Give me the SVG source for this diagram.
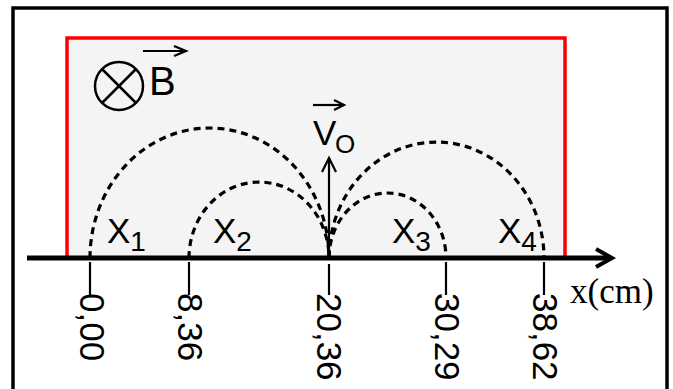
<svg xmlns="http://www.w3.org/2000/svg" width="673" height="389" viewBox="0 0 673 389">
<defs>
<style>
.sans{font-family:"Liberation Sans",Arial,sans-serif;fill:#000}
.serif{font-family:"Liberation Serif","Times New Roman",serif;fill:#000}
.arc{fill:none;stroke:#000;stroke-width:3.2;stroke-dasharray:7 5}
.tick{stroke:#000;stroke-width:2.2}
.lbl{font-size:35px}
.vec{fill:none;stroke:#000;stroke-width:2.2}
</style>
</defs>
<rect x="0" y="0" width="673" height="389" fill="#fff"/>
<g id="frame">
<rect x="13" y="8" width="654" height="420" fill="#fff" stroke="#000" stroke-width="3.5"/>
</g>
<g id="field-region">
<rect x="67" y="38" width="498" height="220" fill="#f4f4f4" stroke="#f00" stroke-width="3.5"/>
</g>
<g id="B-label">
<circle cx="119" cy="86" r="24" fill="none" stroke="#000" stroke-width="2.5"/>
<line x1="102" y1="69" x2="136" y2="103" stroke="#000" stroke-width="2.5"/>
<line x1="136" y1="69" x2="102" y2="103" stroke="#000" stroke-width="2.5"/>
<text class="sans" x="149" y="95" font-size="40">B</text>
<line x1="143" y1="51" x2="186" y2="51" class="vec"/>
<polyline points="174,46 186,51 174,56" class="vec"/>
</g>
<g id="connectors">
<path class="arc" d="M90 258 A119.5 130 0 0 1 329 258"/>
<path class="arc" d="M189 258 A70 76 0 0 1 329 258"/>
<path class="arc" d="M329 258 A58.5 65 0 0 1 446 258"/>
<path class="arc" d="M329 258 A107.5 116 0 0 1 544 258"/>
</g>
<g id="v0-label">
<line x1="329" y1="256" x2="329" y2="158" class="vec"/>
<polyline points="322,172 329,158 336,172" class="vec"/>
<text class="sans" x="313" y="145" font-size="35">V</text>
<text class="sans" x="335" y="153" font-size="26">O</text>
<line x1="313" y1="105" x2="344" y2="105" class="vec"/>
<polyline points="334,100 344,105 334,110" class="vec"/>
</g>
<g id="axis">
<line x1="27" y1="258" x2="610" y2="258" stroke="#000" stroke-width="5"/>
<polyline points="596,249 612,258 596,267" fill="none" stroke="#000" stroke-width="4"/>
<text class="serif" x="570" y="303" font-size="35">x(cm)</text>
</g>
<g id="tick-0">
<line class="tick" x1="90" y1="262" x2="90" y2="295"/>
<text class="sans lbl" transform="translate(80,293) rotate(90)">0,00</text>
</g>
<g id="tick-836">
<line class="tick" x1="189" y1="262" x2="189" y2="295"/>
<text class="sans lbl" transform="translate(178,293) rotate(90)">8,36</text>
</g>
<g id="tick-2036">
<line class="tick" x1="329" y1="264" x2="329" y2="295"/>
<text class="sans lbl" transform="translate(317,293) rotate(90)">20,36</text>
</g>
<g id="tick-3029">
<line class="tick" x1="446" y1="262" x2="446" y2="295"/>
<text class="sans lbl" transform="translate(435,293) rotate(90)">30,29</text>
</g>
<g id="tick-3862">
<line class="tick" x1="544" y1="262" x2="544" y2="295"/>
<text class="sans lbl" transform="translate(533,293) rotate(90)">38,62</text>
</g>
<g id="X1"><text class="sans" x="107" y="243" font-size="35">X<tspan font-size="28" dy="8">1</tspan></text></g>
<g id="X2"><text class="sans" x="213" y="243" font-size="35">X<tspan font-size="28" dy="8">2</tspan></text></g>
<g id="X3"><text class="sans" x="392" y="243" font-size="35">X<tspan font-size="28" dy="8">3</tspan></text></g>
<g id="X4"><text class="sans" x="498" y="243" font-size="35">X<tspan font-size="28" dy="8">4</tspan></text></g>
</svg>
